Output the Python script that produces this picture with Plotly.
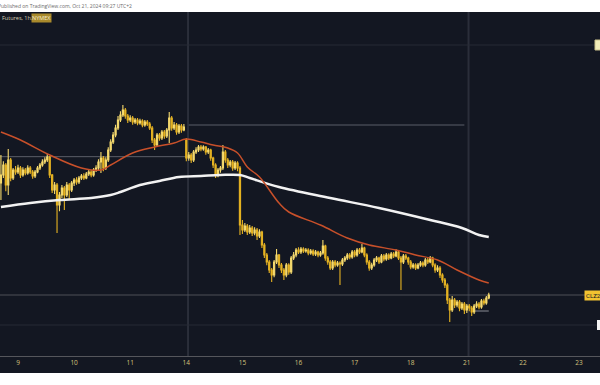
import plotly.graph_objects as go

# ---------------- data ----------------
day_labels = ["9", "10", "11", "14", "15", "16", "17", "18", "21", "22", "23"]
bars_per_day = 23
first_day_bar = 7          # bar index where the "9" session starts
week_start_bars = [76, 191]

first_open = 73.35
session_open = {76: 74.64}  # weekend gap opening

close = [
    73.59, 73.89, 73.29, 74.04, 73.50, 73.74, 73.68, 73.80, 73.59, 73.74,
    73.65, 73.80, 73.68, 73.56, 73.68, 73.80, 73.89, 73.98, 74.04, 74.13,
    73.59, 73.14, 73.29, 72.69, 72.99, 73.20, 72.99, 73.29, 73.14, 73.35,
    73.44, 73.38, 73.50, 73.56, 73.50, 73.62, 73.68, 73.59, 73.74, 73.80,
    73.98, 74.10, 73.80, 74.04, 74.34, 74.58, 74.79, 75.00, 75.24, 75.39,
    75.54, 75.36, 75.24, 75.30, 75.18, 75.24, 75.15, 75.21, 75.09, 75.18,
    75.12, 75.00, 74.64, 74.49, 74.79, 74.70, 74.88, 74.76, 74.94, 75.30,
    75.00, 75.09, 74.88, 75.06, 74.94, 75.03, 74.10, 74.19, 74.04, 74.28,
    74.34, 74.43, 74.37, 74.43, 74.28, 74.34, 74.10, 73.89, 73.59, 73.74,
    73.80, 74.28, 74.04, 73.89, 73.98, 73.80, 73.95, 73.80, 72.09, 71.94,
    72.06, 71.88, 72.00, 71.85, 71.94, 71.76, 71.88, 71.49, 71.19, 70.98,
    70.74, 70.59, 70.98, 71.19, 70.89, 70.74, 70.59, 70.89, 70.68, 71.10,
    71.19, 71.34, 71.28, 71.37, 71.31, 71.34, 71.25, 71.31, 71.22, 71.28,
    71.19, 71.25, 71.46, 71.10, 70.98, 70.80, 70.98, 70.89, 70.95, 70.92,
    71.04, 71.10, 71.19, 71.13, 71.28, 71.19, 71.34, 71.28, 71.40, 71.19,
    70.98, 70.80, 70.89, 71.04, 71.10, 70.98, 71.16, 71.07, 71.19, 71.10,
    71.22, 71.16, 71.28, 71.10, 70.98, 71.16, 71.10, 70.98, 70.83, 70.89,
    70.80, 70.89, 70.95, 70.89, 71.04, 70.98, 71.10, 70.89, 70.74, 70.80,
    70.59, 70.44, 70.29, 69.84, 69.54, 69.84, 69.69, 69.78, 69.60, 69.72,
    69.54, 69.66, 69.60, 69.48, 69.66, 69.72, 69.63, 69.81, 69.75, 69.90, 69.99,
]

high = [
    74.19, 74.00, 73.95, 74.37, 74.10, 73.80, 73.86, 73.90, 73.86, 73.82,
    73.80, 73.88, 73.86, 73.74, 73.74, 73.86, 73.95, 74.06, 74.12, 74.22,
    74.16, 73.62, 73.38, 73.35, 73.08, 73.29, 73.26, 73.38, 73.35, 73.41,
    73.50, 73.52, 73.56, 73.62, 73.64, 73.68, 73.76, 73.74, 73.80, 73.88,
    74.06, 74.28, 74.16, 74.12, 74.42, 74.66, 74.88, 75.10, 75.36, 75.50,
    75.69, 75.60, 75.42, 75.38, 75.36, 75.30, 75.30, 75.28, 75.26, 75.24,
    75.24, 75.18, 75.06, 74.70, 74.85, 74.85, 74.94, 74.94, 75.00, 75.48,
    75.36, 75.18, 75.15, 75.12, 75.12, 75.12, 74.70, 74.28, 74.25, 74.34,
    74.42, 74.49, 74.49, 74.48, 74.46, 74.40, 74.38, 74.14, 73.94, 73.80,
    73.86, 74.49, 74.34, 74.10, 74.04, 74.04, 74.01, 74.00, 73.86, 72.24,
    72.15, 72.12, 72.09, 72.06, 72.02, 72.00, 71.96, 71.92, 71.55, 71.25,
    71.04, 70.80, 71.04, 71.37, 71.22, 70.95, 70.80, 70.95, 70.94, 71.16,
    71.28, 71.40, 71.42, 71.43, 71.42, 71.40, 71.39, 71.37, 71.36, 71.34,
    71.32, 71.31, 71.64, 71.50, 71.16, 71.04, 71.04, 71.04, 71.01, 71.00,
    71.10, 71.16, 71.25, 71.25, 71.34, 71.34, 71.40, 71.40, 71.52, 71.44,
    71.24, 71.04, 70.96, 71.10, 71.16, 71.14, 71.22, 71.22, 71.25, 71.24,
    71.28, 71.28, 71.36, 71.32, 71.16, 71.22, 71.22, 71.14, 71.04, 70.95,
    70.94, 70.95, 71.01, 71.00, 71.10, 71.12, 71.16, 71.14, 70.94, 70.88,
    70.86, 70.64, 70.50, 70.34, 69.90, 69.96, 69.90, 69.84, 69.84, 69.78,
    69.78, 69.72, 69.72, 69.66, 69.72, 69.80, 69.78, 69.87, 69.88, 69.96, 70.06,
]

low = [
    72.84, 73.50, 73.10, 72.99, 73.40, 73.44, 73.60, 73.62, 73.50, 73.54,
    73.58, 73.60, 73.62, 73.48, 73.50, 73.64, 73.74, 73.84, 73.92, 73.98,
    73.50, 73.05, 73.02, 71.85, 72.50, 72.90, 72.54, 72.93, 72.84, 73.08,
    73.26, 73.30, 73.32, 73.44, 73.44, 73.46, 73.56, 73.52, 73.54, 73.68,
    73.74, 73.65, 73.70, 73.74, 73.98, 74.28, 74.52, 74.72, 74.94, 75.18,
    75.33, 75.28, 75.15, 75.18, 75.10, 75.12, 75.08, 75.10, 75.02, 75.04,
    75.06, 74.94, 74.55, 74.34, 74.43, 74.62, 74.64, 74.68, 74.70, 74.55,
    74.92, 74.94, 74.80, 74.82, 74.86, 74.90, 74.00, 74.02, 73.95, 73.98,
    74.22, 74.28, 74.30, 74.32, 74.20, 74.22, 74.02, 73.80, 73.50, 73.52,
    73.66, 73.74, 73.96, 73.80, 73.82, 73.72, 73.74, 73.70, 71.79, 71.82,
    71.88, 71.79, 71.82, 71.76, 71.78, 71.64, 71.70, 71.40, 71.10, 70.88,
    70.65, 70.38, 70.52, 70.92, 70.80, 70.65, 70.44, 70.52, 70.60, 70.62,
    71.04, 71.12, 71.22, 71.22, 71.25, 71.26, 71.18, 71.20, 71.16, 71.16,
    71.12, 71.14, 71.20, 71.02, 70.90, 70.74, 70.74, 70.82, 70.84, 70.29,
    70.86, 70.98, 71.04, 71.06, 71.08, 71.12, 71.14, 71.22, 71.24, 71.12,
    70.90, 70.72, 70.74, 70.84, 70.98, 70.92, 70.94, 71.00, 71.02, 71.04,
    71.06, 71.10, 71.12, 71.04, 70.14, 70.92, 71.04, 70.90, 70.76, 70.78,
    70.74, 70.76, 70.84, 70.82, 70.84, 70.92, 70.94, 70.82, 70.66, 70.68,
    70.50, 70.36, 70.20, 69.72, 69.18, 69.48, 69.60, 69.62, 69.50, 69.54,
    69.42, 69.45, 69.50, 69.36, 69.42, 69.60, 69.56, 69.58, 69.68, 69.70, 69.86,
]

ema_fast_bar = [0, 8, 20, 33, 41, 45, 54, 63, 71, 76, 82, 87, 93, 97, 101, 106,
                114, 118, 131, 142, 151, 162, 170, 179, 187, 196, 200]
ema_fast = [74.88, 74.64, 74.19, 73.80, 73.74, 73.89, 74.25, 74.43, 74.55, 74.67,
            74.58, 74.49, 74.40, 74.25, 73.83, 73.53, 72.75, 72.48, 72.09, 71.70,
            71.49, 71.34, 71.19, 71.04, 70.74, 70.44, 70.35]

ema_slow_bar = [0, 12, 24, 37, 45, 49, 57, 65, 73, 82, 90, 98, 102, 114, 135,
                155, 176, 189, 196, 200]
ema_slow = [72.63, 72.75, 72.84, 72.90, 72.99, 73.08, 73.29, 73.41, 73.53, 73.56,
            73.59, 73.59, 73.50, 73.23, 72.90, 72.60, 72.24, 72.00, 71.79, 71.73]

# horizontal drawings: (price, from bar, to bar, colour)
level_price = [77.49, 75.09, 74.14, 69.99, 69.09, 69.51]
level_from = [-5, 77, -5, -5, -5, 194]
level_to = [260, 190, 77, 260, 260, 200]
level_color = ["#262a35", "#5b5e68", "#5b5e68", "#4f5156", "#262a35", "#8a8c93"]

# ---------------- figure ----------------
bars = list(range(len(close)))
opens = [first_open] + close[:-1]
for b, v in session_open.items():
    opens[b] = v

tick_bars = [first_day_bar + bars_per_day * k for k in range(len(day_labels))]

BG = "#131722"
fig = go.Figure()

for p, a, b, c in zip(level_price, level_from, level_to, level_color):
    fig.add_shape(type="line", xref="x", yref="y", x0=a, x1=b, y0=p, y1=p,
                  line=dict(color=c, width=1), layer="below")

for wb in week_start_bars:
    fig.add_shape(type="line", xref="x", yref="paper", x0=wb + 0.7, x1=wb + 0.7,
                  y0=0, y1=1, line=dict(color="#2a2e3a", width=2), layer="below")

fig.add_trace(go.Scatter(x=ema_slow_bar, y=ema_slow, mode="lines",
                         line=dict(color="#f2f2f2", width=2.5, shape="spline"),
                         hoverinfo="skip", showlegend=False))
fig.add_trace(go.Scatter(x=ema_fast_bar, y=ema_fast, mode="lines",
                         line=dict(color="#c8502a", width=1.5, shape="spline"),
                         hoverinfo="skip", showlegend=False))

fig.add_trace(go.Candlestick(
    x=bars, open=opens, high=high, low=low, close=close,
    increasing=dict(line=dict(color="#f6da6e", width=1.1), fillcolor="#f6da6e"),
    decreasing=dict(line=dict(color="#e6b322", width=1.1), fillcolor="#e6b322"),
    whiskerwidth=0, showlegend=False, hoverinfo="skip"))

# white strips (top and bottom) of the screenshot frame
fig.add_shape(type="rect", xref="paper", yref="paper", x0=-0.1, x1=1.1,
              y0=1, y1=1.2, fillcolor="white", line=dict(width=0), layer="above")
fig.add_shape(type="rect", xref="paper", yref="paper", x0=-0.1, x1=1.1,
              y0=-0.2, y1=-17 / 344, fillcolor="white", line=dict(width=0), layer="above")

# right-edge price-scale fragments
fig.add_shape(type="rect", xref="paper", yref="y", x0=595 / 600, x1=1.02,
              y0=77.34, y1=77.64, fillcolor="#f1ecb8", line=dict(color="#c9c08a", width=1),
              layer="above")
fig.add_shape(type="rect", xref="paper", yref="y", x0=597 / 600, x1=1.02,
              y0=68.94, y1=69.24, fillcolor="#f4f4f4", line=dict(width=0), layer="above")

fig.add_annotation(xref="paper", yref="y", x=584 / 600, y=close[-1], xanchor="left",
                   yanchor="middle", text="CLZ2024", showarrow=False,
                   font=dict(family="Roboto", size=6, color="#131722"),
                   bgcolor="#f2c230", borderpad=1)

fig.add_annotation(xref="paper", yref="paper", x=-4 / 600, y=1 + 6 / 344,
                   xanchor="left", yanchor="middle", showarrow=False,
                   text="Published on TradingView.com, Oct 21, 2024 09:27 UTC+2",
                   font=dict(family="Open Sans", size=5, color="#6a6a6a"))
fig.add_annotation(xref="paper", yref="paper", x=0, y=1 - 6 / 344,
                   xanchor="left", yanchor="middle", showarrow=False,
                   text="Futures, 1h,",
                   font=dict(family="Open Sans", size=5.5, color="#d8d2b6"))
fig.add_annotation(xref="paper", yref="paper", x=31 / 600, y=1 - 6 / 344,
                   xanchor="left", yanchor="middle", showarrow=False,
                   text="NYMEX", bgcolor="#a98a2c", borderpad=0,
                   font=dict(family="Open Sans", size=5.5, color="#f3ead0"))

fig.update_layout(
    width=600, height=385,
    margin=dict(l=0, r=0, t=12, b=29),
    paper_bgcolor=BG, plot_bgcolor=BG,
    showlegend=False,
    xaxis=dict(range=[-0.38, 245.6], tickvals=tick_bars, ticktext=day_labels,
               showgrid=False, zeroline=False, showline=True,
               linecolor="#55565c", linewidth=1, ticks="",
               tickfont=dict(family="Open Sans", size=6.5, color="#d6c27c"),
               rangeslider=dict(visible=False), fixedrange=True),
    yaxis=dict(range=[68.16, 78.48], visible=False, showgrid=False,
               zeroline=False, fixedrange=True),
)

fig.write_html("out.html", config={"displayModeBar": False},
               post_script="document.body.style.margin='0';document.body.style.overflow='hidden';")
